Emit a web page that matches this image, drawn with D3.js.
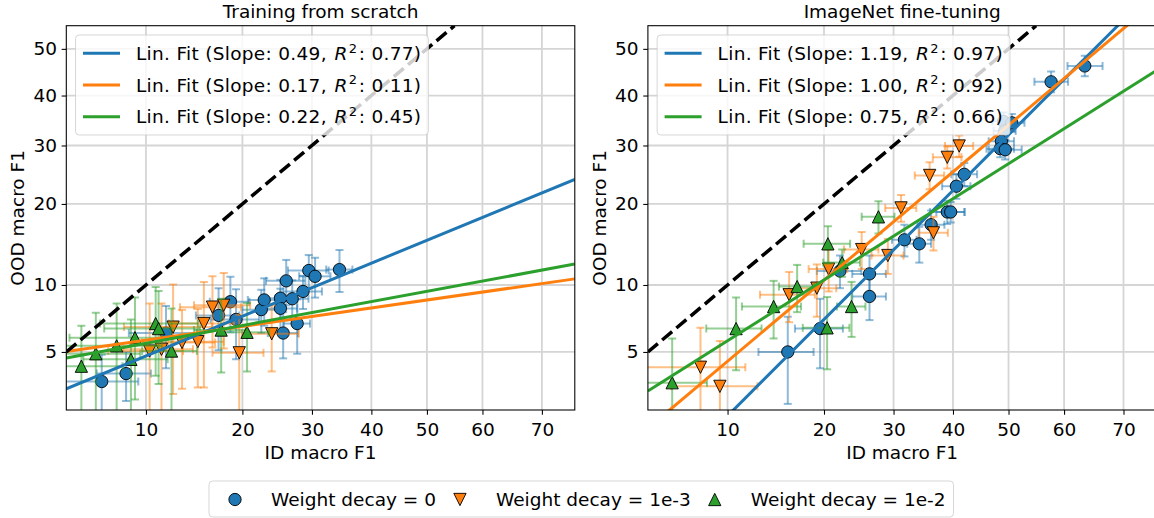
<!DOCTYPE html>
<html>
<head>
<meta charset="utf-8">
<script src="https://cdn.jsdelivr.net/npm/d3@7"></script>
<style>
  html, body { margin: 0; padding: 0; background: #fff; }
  svg { display: block; font-family: "DejaVu Sans", sans-serif; }
</style>
</head>
<body>
<svg id="chart" width="1154" height="518"></svg>
<script>
// ---- Labels and ticks ----
const panelTitles = ["Training from scratch", "ImageNet fine-tuning"];
const seriesLabels = ["Weight decay = 0", "Weight decay = 1e-3", "Weight decay = 1e-2"];
const xLabel = "ID macro F1";
const yLabel = "OOD macro F1";
const xTicks = [10, 20, 30, 40, 50, 60, 70];
const yTicks = [5, 10, 20, 30, 40, 50];
const xDomain = [5, 75];
const yDomain = [2.5, 55];

// ---- Runs: [ID macro F1, OOD macro F1, ID std, OOD std] ----
const scratchWd0 = [
  [6.9, 3.55, 2.5, 1.3], [8.5, 3.9, 1.9, 1.1], [11.7, 6.15, 3, 2],
  [17.1, 7.4, 2.5, 2.3], [18.5, 8.5, 2.4, 2.3], [19.2, 7.1, 3, 2.5],
  [22.5, 7.85, 2.5, 1.7], [22.9, 8.65, 2.2, 2.0], [25.2, 8.8, 2.5, 1.7],
  [25.2, 7.95, 2.5, 1.7], [26.95, 8.75, 2.5, 1.7], [26.05, 10.4, 2.9, 2.2],
  [28.6, 9.4, 3, 1.5], [27.7, 6.8, 2, 1.9], [25.6, 6.15, 2.2, 1.5],
  [29.5, 11.45, 3.2, 1.7], [30.5, 10.85, 2.5, 2], [34.5, 11.55, 2.2, 2.2]
];
const scratchWd1e3 = [
  [10.3, 5.05, 3, 3.3], [11.3, 5.15, 3, 3.2], [12.35, 6.55, 4, 3.5],
  [13.2, 5.55, 3.5, 2.3], [14.8, 5.6, 2.9, 2.3], [15.45, 6.8, 3.5, 3.5],
  [16.4, 8.05, 3.4, 2.8], [17.7, 8.2, 3.3, 3], [19.6, 4.95, 3.2, 2.5],
  [23.95, 6.1, 4, 2.1]
];
const scratchWd1e2 = [
  [5.75, 4.25, 2.5, 2.4], [6.55, 4.9, 3, 2.7], [7.85, 5.35, 3.5, 3],
  [8.85, 4.6, 3, 2.5], [9.15, 5.85, 4, 3], [10.8, 6.8, 4, 3],
  [11.05, 6.45, 4, 3], [12.2, 5.05, 2.5, 2.9], [17.4, 6.35, 3, 2.4],
  [20.6, 6.2, 3, 2.2]
];
const finetuneWd0 = [
  [15.7, 5.0, 3, 2.3], [19.5, 6.45, 3, 2.3], [22.1, 11.4, 3, 1.7],
  [26.3, 11.1, 2.5, 2], [26.3, 8.95, 2.5, 1.9], [31.75, 15.0, 2, 2],
  [34.2, 14.5, 2, 2.2], [36.2, 17.0, 2.3, 2], [39.0, 18.8, 3, 1.7],
  [39.6, 18.8, 2.5, 1.5], [40.6, 22.8, 2.5, 2], [42.0, 24.8, 2.3, 2],
  [49.1, 34.7, 2, 1.8], [50.6, 34.4, 2.3, 1.8], [49.3, 32.8, 2, 1.8],
  [48.7, 30.8, 2.3, 1.8], [48.5, 29.4, 2.5, 1.6], [49.4, 29.2, 3, 1.8],
  [57.7, 42.9, 3, 2.2], [63.6, 46.3, 3, 2.2]
];
const finetuneWd1e3 = [
  [8.0, 4.2, 3.5, 2.3], [9.4, 3.35, 3.2, 2.3], [15.85, 9.1, 3, 2.2],
  [19.1, 9.7, 2.5, 2.4], [20.6, 11.6, 2.5, 2.2], [25.15, 13.8, 2.5, 2.2],
  [29.1, 13.1, 2.5, 2], [31.2, 19.4, 2.5, 2], [35.95, 24.6, 2.5, 2.3],
  [39.0, 27.8, 2.5, 2], [41.1, 29.9, 2.5, 2], [36.6, 15.9, 2.5, 2.2]
];
const finetuneWd1e2 = [
  [6.25, 3.5, 2.2, 2.3], [10.7, 6.45, 2.3, 2.4], [14.2, 8.1, 3, 2.3],
  [16.75, 9.85, 2, 2.2], [20.4, 6.5, 3, 2.4], [20.5, 14.5, 3, 2.3],
  [22.4, 12.3, 2.5, 1.5], [23.7, 8.1, 2, 2.2], [27.65, 18.1, 2.5, 2.3]
];

// ---- Linear fits in probit space: probit(OOD) = slope * probit(ID) + intercept ----
const scratchSlopes = [0.49, 0.17, 0.22];
const scratchR2 = [0.77, 0.11, 0.45];
const scratchIntercepts = [-1.039, -1.363, -1.316];
const finetuneSlopes = [1.19, 1.00, 0.75];
const finetuneR2 = [0.97, 0.92, 0.66];
const finetuneIntercepts = [-0.467, -0.414, -0.623];

// ---- Styling ----
const seriesColors = ["#1f77b4", "#ff7f0e", "#2ca02c"];
const seriesMarkers = ["circle", "down", "up"];
const FONT = 18.5;
const plotW = 508.5, plotTop = 25.7, plotBottom = 410;
const panels = [
  { title: panelTitles[0], left: 66.3, series: [scratchWd0, scratchWd1e3, scratchWd1e2],
    slopes: scratchSlopes, intercepts: scratchIntercepts, r2: scratchR2 },
  { title: panelTitles[1], left: 647.9, series: [finetuneWd0, finetuneWd1e3, finetuneWd1e2],
    slopes: finetuneSlopes, intercepts: finetuneIntercepts, r2: finetuneR2 }
];

// Inverse of the standard normal CDF (Acklam's rational approximation)
function probit(p) {
  const a = [-3.969683028665376e+01, 2.209460984245205e+02, -2.759285104469687e+02,
             1.383577518672690e+02, -3.066479806614716e+01, 2.506628277459239e+00];
  const b = [-5.447609879822406e+01, 1.615858368580409e+02, -1.556989798598866e+02,
             6.680131188771972e+01, -1.328068155288572e+01];
  const c = [-7.784894002430293e-03, -3.223964580411365e-01, -2.400758277161838e+00,
             -2.549671185243257e+00, 4.374664141464968e+00, 2.938163982698783e+00];
  const d = [7.784695709041462e-03, 3.224671290700398e-01, 2.445134137142996e+00,
             3.754408661907416e+00];
  const pl = 0.02425, ph = 1 - pl;
  if (p < pl) {
    const q = Math.sqrt(-2 * Math.log(p));
    return (((((c[0]*q+c[1])*q+c[2])*q+c[3])*q+c[4])*q+c[5]) / ((((d[0]*q+d[1])*q+d[2])*q+d[3])*q+1);
  }
  if (p <= ph) {
    const q = p - 0.5, r = q * q;
    return (((((a[0]*r+a[1])*r+a[2])*r+a[3])*r+a[4])*r+a[5])*q / (((((b[0]*r+b[1])*r+b[2])*r+b[3])*r+b[4])*r+1);
  }
  const q = Math.sqrt(-2 * Math.log(1 - p));
  return -(((((c[0]*q+c[1])*q+c[2])*q+c[3])*q+c[4])*q+c[5]) / ((((d[0]*q+d[1])*q+d[2])*q+d[3])*q+1);
}

// Probit-transformed percentage scale built on a d3 linear scale
function probitScale(lin) {
  const s = v => lin(probit(Math.min(Math.max(v, 0.01), 99.99) / 100));
  s.range = () => lin.range();
  s.domain = () => lin.domain();
  s.copy = () => probitScale(lin.copy());
  return s;
}

const R = 6.15; // marker half-size
function markerPath(kind) {
  if (kind === "circle") {
    return `M${R},0A${R},${R} 0 1,1 ${-R},0A${R},${R} 0 1,1 ${R},0Z`;
  }
  if (kind === "up") return `M0,${-R}L${R},${R}L${-R},${R}Z`;
  return `M0,${R}L${R},${-R}L${-R},${-R}Z`;
}

const svg = d3.select("#chart");
const defs = svg.append("defs");

panels.forEach((pn, pi) => {
  const x0 = pn.left, x1 = pn.left + plotW;
  const xLin = d3.scaleLinear().domain(xDomain.map(v => probit(v / 100))).range([x0, x1]);
  const yLin = d3.scaleLinear().domain(yDomain.map(v => probit(v / 100))).range([plotBottom, plotTop]);
  const x = probitScale(xLin), y = probitScale(yLin);
  const clipId = "plot-clip-" + pi;
  defs.append("clipPath").attr("id", clipId).append("rect")
    .attr("x", x0).attr("y", plotTop).attr("width", plotW).attr("height", plotBottom - plotTop);

  const g = svg.append("g");

  // grid
  const grid = g.append("g").attr("clip-path", `url(#${clipId})`)
    .attr("stroke", "#d5d5d5").attr("stroke-width", 1.8);
  grid.selectAll("line.gx").data(xTicks).join("line").attr("class", "gx")
    .attr("x1", d => x(d)).attr("x2", d => x(d)).attr("y1", plotTop).attr("y2", plotBottom);
  grid.selectAll("line.gy").data(yTicks).join("line").attr("class", "gy")
    .attr("y1", d => y(d)).attr("y2", d => y(d)).attr("x1", x0).attr("x2", x1);

  const plot = g.append("g").attr("clip-path", `url(#${clipId})`);

  // error bars and markers, one series at a time
  pn.series.forEach((data, si) => {
    const col = seriesColors[si];
    const eb = plot.append("g").attr("stroke", col).attr("stroke-opacity", 0.5)
      .attr("stroke-width", 2).attr("fill", "none");
    const cap = 4;
    data.forEach(([ix, oy, ex, ey]) => {
      const cx = x(ix), cy = y(oy);
      const xa = x(ix - ex), xb = x(ix + ex), ya = y(oy - ey), yb = y(oy + ey);
      eb.append("line").attr("x1", xa).attr("x2", xb).attr("y1", cy).attr("y2", cy);
      eb.append("line").attr("x1", cx).attr("x2", cx).attr("y1", ya).attr("y2", yb);
      eb.append("line").attr("x1", xa).attr("x2", xa).attr("y1", cy - cap).attr("y2", cy + cap);
      eb.append("line").attr("x1", xb).attr("x2", xb).attr("y1", cy - cap).attr("y2", cy + cap);
      eb.append("line").attr("x1", cx - cap).attr("x2", cx + cap).attr("y1", ya).attr("y2", ya);
      eb.append("line").attr("x1", cx - cap).attr("x2", cx + cap).attr("y1", yb).attr("y2", yb);
    });
    plot.append("g").selectAll("path").data(data).join("path")
      .attr("d", markerPath(seriesMarkers[si]))
      .attr("transform", d => `translate(${x(d[0])},${y(d[1])})`)
      .attr("fill", col).attr("stroke", "#000").attr("stroke-width", 0.9);
  });

  // fitted lines
  const xp = xDomain.map(v => probit(v / 100));
  pn.slopes.forEach((s, si) => {
    const b = pn.intercepts[si];
    plot.append("line")
      .attr("x1", xLin(xp[0])).attr("y1", yLin(s * xp[0] + b))
      .attr("x2", xLin(xp[1])).attr("y2", yLin(s * xp[1] + b))
      .attr("stroke", seriesColors[si]).attr("stroke-width", 3);
  });

  // identity line
  plot.append("line")
    .attr("x1", x(xDomain[0])).attr("y1", y(xDomain[0]))
    .attr("x2", x(yDomain[1])).attr("y2", y(yDomain[1]))
    .attr("stroke", "#000").attr("stroke-width", 3.5).attr("stroke-dasharray", "13,5.6");

  // spines
  g.append("rect").attr("x", x0).attr("y", plotTop).attr("width", plotW)
    .attr("height", plotBottom - plotTop).attr("fill", "none")
    .attr("stroke", "#000").attr("stroke-width", 1.07);

  // axes
  const xa = g.append("g").attr("transform", `translate(0,${plotBottom})`)
    .call(d3.axisBottom(x).tickValues(xTicks).tickSize(4.67).tickPadding(7.9).tickSizeOuter(0));
  const ya = g.append("g").attr("transform", `translate(${x0},0)`)
    .call(d3.axisLeft(y).tickValues(yTicks).tickSize(4.67).tickPadding(4.67).tickSizeOuter(0));
  [xa, ya].forEach(a => {
    a.select(".domain").remove();
    a.attr("font-size", FONT).attr("font-family", "DejaVu Sans").attr("color", "#000");
    a.selectAll(".tick line").attr("stroke-width", 1.07);
  });

  // labels and title
  g.append("text").attr("x", (x0 + x1) / 2).attr("y", 459).attr("text-anchor", "middle")
    .attr("font-size", FONT).text(xLabel);
  g.append("text").attr("transform", `translate(${x0 - 42.3},${(plotTop + plotBottom) / 2}) rotate(-90)`)
    .attr("text-anchor", "middle").attr("font-size", FONT).text(yLabel);
  g.append("text").attr("x", (x0 + x1) / 2).attr("y", 17.5).attr("text-anchor", "middle")
    .attr("font-size", FONT).text(pn.title);

  // in-panel legend
  const lg = g.append("g");
  const box = lg.append("rect").attr("x", x0 + 9.25).attr("y", plotTop + 9.3)
    .attr("rx", 3.7).attr("ry", 3.7).attr("height", 100)
    .attr("fill", "#fff").attr("fill-opacity", 0.8)
    .attr("stroke", "#cccccc").attr("stroke-opacity", 0.8).attr("stroke-width", 1);
  let maxEnd = 0;
  pn.slopes.forEach((s, si) => {
    const cy = plotTop + 27.6 + si * 31.7;
    const hx = x0 + 16.7;
    lg.append("line").attr("x1", hx).attr("x2", hx + 37).attr("y1", cy).attr("y2", cy)
      .attr("stroke", seriesColors[si]).attr("stroke-width", 3);
    const tx = hx + 37 + 16;
    const t = lg.append("text").attr("x", tx).attr("y", cy + 6.7).attr("font-size", FONT)
      .attr("letter-spacing", 0.3);
    t.append("tspan").text(`Lin. Fit (Slope: ${s.toFixed(2)}, `);
    t.append("tspan").attr("font-style", "italic").attr("dx", 1.5).text("R");
    t.append("tspan").attr("font-size", 13).attr("dx", 1).attr("dy", -7.5).text("2");
    t.append("tspan").attr("dx", 1.5).attr("dy", 7.5).text(`: ${pn.r2[si].toFixed(2)})`);
    maxEnd = Math.max(maxEnd, tx + t.node().getComputedTextLength() + 4);
  });
  box.attr("width", maxEnd + 7 - (x0 + 9.25));
});

// shared legend under the panels
const bl = svg.append("g");
const bbox = bl.append("rect").attr("y", 481).attr("height", 36).attr("rx", 3.7).attr("ry", 3.7)
  .attr("fill", "#fff").attr("fill-opacity", 0.8)
  .attr("stroke", "#cccccc").attr("stroke-opacity", 0.8).attr("stroke-width", 1);
let mx = 235;
const rowY = 499.5;
seriesLabels.forEach((lab, si) => {
  bl.append("path").attr("d", markerPath(seriesMarkers[si]))
    .attr("transform", `translate(${mx},${rowY})`)
    .attr("fill", seriesColors[si]).attr("stroke", "#000").attr("stroke-width", 0.9);
  const t = bl.append("text").attr("x", mx + 36).attr("y", rowY + 6.7)
    .attr("font-size", FONT).text(lab);
  const end = mx + 36 + t.node().getComputedTextLength();
  if (si === seriesLabels.length - 1) {
    bbox.attr("x", 209).attr("width", end + 8 - 209);
  }
  mx = end + 24;
});
</script>
</body>
</html>
